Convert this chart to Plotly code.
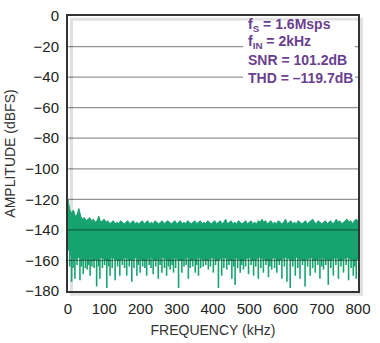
import plotly.graph_objects as go

# ---------------- data ----------------
freq_top = list(range(0, 805, 5))  # kHz
top_db = [
    -120, -127, -129, -127, -131, -130, -126, -131, -133, -132,
    -134, -133, -132, -134, -133, -135, -134, -131, -135, -134,
    -133, -135, -134, -136, -135, -134, -136, -135, -136, -134,
    -135, -136, -135, -134, -136, -135, -134, -136, -135, -136,
    -135, -134, -136, -135, -134, -136, -135, -136, -134, -135,
    -136, -135, -134, -136, -135, -134, -135, -136, -135, -134,
    -136, -135, -134, -136, -135, -136, -134, -135, -136, -135,
    -134, -136, -135, -134, -136, -135, -136, -134, -135, -136,
    -135, -134, -136, -135, -134, -136, -135, -133, -136, -135,
    -134, -136, -135, -136, -134, -135, -136, -135, -134, -136,
    -135, -134, -136, -135, -136, -134, -135, -133, -135, -134,
    -136, -135, -134, -136, -135, -136, -134, -135, -136, -135,
    -133, -136, -135, -134, -136, -135, -136, -134, -135, -136,
    -135, -134, -136, -135, -134, -133, -135, -136, -134, -135,
    -136, -135, -134, -136, -135, -134, -136, -135, -133, -135,
    -134, -136, -135, -134, -133, -135, -134, -136, -134, -133,
    -134,
]
freq_bot = list(range(0, 810, 10))
bot_db = [
    -152, -158, -159, -158, -160, -159, -158, -160, -159, -158,
    -159, -160, -158, -159, -160, -159, -158, -160, -159, -158,
    -159, -160, -159, -158, -160, -159, -158, -159, -160, -158,
    -159, -160, -159, -158, -160, -159, -158, -159, -160, -159,
    -158, -160, -159, -158, -159, -160, -158, -159, -160, -159,
    -158, -160, -159, -158, -159, -160, -159, -158, -160, -159,
    -158, -159, -160, -158, -159, -160, -159, -158, -160, -159,
    -158, -159, -160, -159, -158, -160, -159, -158, -159, -160,
    -159,
]
spike_freq = [
    5, 10, 14, 19, 25, 33, 37, 42, 48, 53, 57, 61, 66, 72, 79, 84, 88, 95,
    101, 107, 112, 116, 122, 130, 137, 143, 150, 156, 162, 169, 176, 182,
    190, 194, 199, 206, 212, 217, 224, 229, 235, 242, 249, 254, 259, 266,
    272, 277, 282, 287, 291, 297, 305, 314, 320, 326, 332, 337, 344, 351,
    355, 360, 366, 373, 380, 387, 393, 401, 407, 415, 424, 430, 438, 444,
    452, 457, 461, 468, 475, 479, 484, 490, 498, 505, 512, 518, 525, 532,
    539, 546, 553, 557, 562, 570, 576, 583, 590, 597, 604, 613, 620, 627,
    634, 640, 647, 654, 661, 668, 675, 682, 689, 695, 700, 705, 711, 718,
    725, 732, 739, 746, 753, 760, 767, 774, 781, 787, 791, 795,
]
spike_db = [
    -164, -174, -165, -172, -163, -173, -164, -169, -165, -166, -163, -170,
    -164, -165, -177, -164, -172, -165, -163, -178, -164, -170, -165, -173,
    -164, -170, -163, -165, -170, -164, -174, -165, -170, -163, -168, -164,
    -165, -170, -163, -165, -169, -164, -172, -163, -168, -165, -170, -164,
    -166, -163, -168, -165, -178, -168, -164, -163, -172, -165, -164, -168,
    -163, -170, -165, -164, -163, -166, -164, -168, -163, -178, -170, -165,
    -166, -163, -172, -164, -176, -165, -168, -163, -166, -164, -169, -163,
    -170, -164, -172, -165, -168, -163, -171, -164, -166, -165, -168, -163,
    -172, -164, -174, -178, -164, -170, -165, -172, -163, -177, -164, -170,
    -165, -168, -163, -172, -164, -166, -163, -176, -165, -170, -163, -172,
    -164, -168, -163, -173, -165, -170, -164, -172,
]
y_ticks = [0, -20, -40, -60, -80, -100, -120, -140, -160, -180]
x_ticks = [0, 100, 200, 300, 400, 500, 600, 700, 800]
info_lines = ["f<sub>S</sub> = 1.6Msps", "f<sub>IN</sub> = 2kHz",
              "SNR = 101.2dB", "THD = \u2013119.7dB"]

GREEN = "#17a370"
FONT = "Liberation Sans Narrow, Liberation Sans, Arial, sans-serif"

# plot-area geometry (pixels) used to place the text block
W, H = 380, 343
ML, MR, MT, MB = 68, 22, 7, 47
PW, PH = W - ML - MR, H - MT - MB


def px_to_paper_x(px):
    return (px - ML) / PW


def px_to_paper_y(py):
    return 1 - (py - MT) / PH


fig = go.Figure()
fig.add_trace(go.Scatter(x=freq_top, y=top_db, mode="lines",
                         line=dict(color=GREEN, width=1), hoverinfo="skip"))
fig.add_trace(go.Scatter(x=freq_bot, y=bot_db, mode="lines", fill="tonexty",
                         fillcolor=GREEN, line=dict(color=GREEN, width=1),
                         hoverinfo="skip"))
sx, sy = [], []
for f, d in zip(spike_freq, spike_db):
    sx += [f, f, None]
    sy += [-155, d, None]
fig.add_trace(go.Scatter(x=sx, y=sy, mode="lines",
                         line=dict(color=GREEN, width=1.6), hoverinfo="skip"))

# gridlines drawn above data (as in reference)
for yv in y_ticks[1:-1]:
    fig.add_shape(type="line", xref="x", yref="y", x0=0, x1=800, y0=yv, y1=yv,
                  line=dict(color="rgba(0,0,0,0.42)", width=1.3), layer="above")

# white backing behind the text block
fig.add_shape(type="rect", xref="paper", yref="paper",
              x0=px_to_paper_x(243), x1=px_to_paper_x(355),
              y0=px_to_paper_y(86), y1=px_to_paper_y(12),
              fillcolor="white", line=dict(width=0), layer="above")

# drop shadow of the frame
fig.add_shape(type="rect", xref="paper", yref="paper", x0=0.012, x1=1.012,
              y0=-0.012, y1=0.988, line=dict(color="rgba(0,0,0,0.12)", width=3),
              layer="below")

line_centers = [16, 34.5, 53.5, 72]
for txt, cy in zip(info_lines, line_centers):
    fig.add_annotation(xref="paper", yref="paper", x=px_to_paper_x(247),
                       y=px_to_paper_y(cy),
                       xanchor="left", yanchor="middle", align="left",
                       text=txt, showarrow=False, borderpad=0,
                       font=dict(family=FONT, size=14, color="#6a3f8e",
                                 weight="bold"))

fig.update_layout(
    width=W, height=H,
    margin=dict(l=ML, r=MR, t=MT, b=MB),
    paper_bgcolor="white", plot_bgcolor="white",
    showlegend=False,
    font=dict(family=FONT, size=15, color="#222"),
    xaxis=dict(range=[0, 800], tickvals=x_ticks, showgrid=False, zeroline=False,
               showline=True, mirror=True, linecolor="#333", linewidth=2,
               ticks="", ticklabelstandoff=3,
               title=dict(text="FREQUENCY (kHz)", standoff=9,
                          font=dict(size=14, color="#333"))),
    yaxis=dict(range=[-180, 0], tickvals=y_ticks,
               ticktext=[("\u2212" + str(-v)) if v < 0 else str(v) for v in y_ticks],
               showgrid=False, zeroline=False,
               showline=True, mirror=True, linecolor="#333", linewidth=2,
               ticks="", ticklabelstandoff=4,
               title=dict(text="AMPLITUDE (dBFS)", standoff=6,
                          font=dict(size=14, color="#333"))),
)

fig.write_html("out.html")
